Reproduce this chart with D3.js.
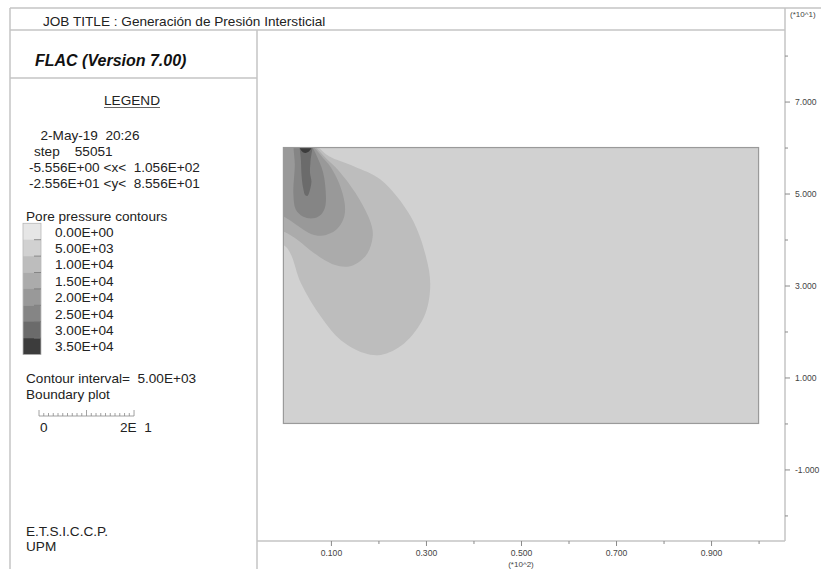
<!DOCTYPE html>
<html>
<head>
<meta charset="utf-8">
<script src="https://cdn.jsdelivr.net/npm/d3@7"></script>
<style>
  body { margin: 0; background: #fff; }
  svg text { font-family: "Liberation Sans", Arial, sans-serif; white-space: pre; }
</style>
</head>
<body>
<svg id="chart"></svg>
<script>
// plot window (model units, m)
let xDomain = [-5.556, 105.56]
let yDomain = [-25.56, 85.56]
let gridX = [0, 100]
let gridY = [0, 60]

let xTicks = [10, 30, 50, 70, 90]
let xMinor = [20, 40, 60, 80, 100]
let yTicks = [70, 50, 30, 10, -10]
let yMinor = [80, 60, 40, 20, 0, -20]

let levels = [0, 5000, 10000, 15000, 20000, 25000, 30000, 35000]
let infoLines = ["2-May-19  20:26", "step    55051", "-5.556E+00 <x<  1.056E+02", "-2.556E+01 <y<  8.556E+01"]
let footLines = ["E.T.S.I.C.C.P.", "UPM"]

// contour outlines (x, y in model units)
let contour5000 = [[5.2, 62], [7.4, 60], [9.6, 58.1], [14.9, 55.9], [20.5, 53.0], [26.8, 45.0], [30.0, 36.3], [30.9, 29.8], [29.6, 23.2], [25.4, 17.4], [20.5, 14.9], [17.0, 15.3], [12.1, 18.1], [7.9, 23.2], [3.7, 30.5], [0.9, 38.0], [-3, 41], [-3, 62]]
let contour10000 = [[5.0, 62], [6.9, 60], [9.0, 57.6], [11.6, 55.0], [15.6, 49.4], [18.4, 43.6], [18.8, 40.7], [17.7, 37.0], [15.6, 34.9], [13.5, 34.1], [10.7, 34.5], [6.5, 37.0], [3.0, 39.9], [0.5, 41.5], [-3, 43], [-3, 62]]
let contour15000 = [[5.0, 62], [6.5, 60], [8.3, 57.8], [9.8, 56.0], [11.7, 52.3], [12.9, 47.9], [12.8, 45.0], [11.7, 42.8], [10.0, 41.4], [7.9, 40.8], [5.8, 41.2], [3.7, 42.5], [1.6, 44.0], [0, 45], [-3, 46], [-3, 62]]
let contour20000 = [[2.5, 62], [2.4, 56], [2.1, 50], [2.6, 46.5], [4.1, 45.0], [6.2, 44.6], [7.9, 45.4], [8.8, 47.2], [8.9, 50.5], [8.3, 54.8], [7.0, 58.2], [6.2, 60], [5.6, 62]]
let contour25000 = [[3.7, 62], [3.7, 57], [3.9, 53], [4.2, 51.0], [4.6, 49.6], [5.1, 49.5], [5.6, 50.8], [5.9, 52.6], [5.6, 54.5], [5.7, 57.0], [6.0, 62]]
let contour30000 = [[3.2, 61], [3.7, 59.4], [4.6, 58.8], [5.5, 59.3], [6.2, 61]]

let contours = [contour5000, contour10000, contour15000, contour20000, contour25000, contour30000]
let greys = ["#e6e6e6", "#d1d1d1", "#bdbdbd", "#ababab", "#999999", "#858585", "#6b6b6b", "#3c3c3c"]

let width = 821
let height = 569
let frame = "#c4c4c4"
let font = "\"Liberation Sans\", Arial, sans-serif"

let svg = d3.select("#chart").attr("width", width).attr("height", height)

let xScale = d3.scaleLinear().domain(xDomain).range([257, 785])
let yScale = d3.scaleLinear().domain(yDomain).range([541, 30])

let fmtE = (v) => {
    let parts = v.toExponential(2).split("e")
    let n = +parts[1]
    return parts[0] + "E" + (n < 0 ? "-" : "+") + String(Math.abs(n)).padStart(2, "0")
}

let drawFrame = () => {
    let lines = [
        [10, 8, width, 8],
        [10, 30, 785, 30],
        [10, 8, 10, height],
        [257, 30, 257, height],
        [785, 8, 785, 541],
        [257, 541, 785, 541],
        [10, 78, 257, 78]
    ]
    svg.selectAll("line.frame")
        .data(lines)
        .enter()
        .append("line")
        .attr("class", "frame")
        .attr("x1", d => d[0]).attr("y1", d => d[1])
        .attr("x2", d => d[2]).attr("y2", d => d[3])
        .attr("stroke", frame)
        .attr("stroke-width", 1.5)
}

let drawContours = () => {
    svg.append("clipPath")
        .attr("id", "gridclip")
        .append("rect")
        .attr("x", xScale(gridX[0]))
        .attr("y", yScale(gridY[1]))
        .attr("width", xScale(gridX[1]) - xScale(gridX[0]))
        .attr("height", yScale(gridY[0]) - yScale(gridY[1]))

    svg.append("rect")
        .attr("x", xScale(gridX[0]))
        .attr("y", yScale(gridY[1]))
        .attr("width", xScale(gridX[1]) - xScale(gridX[0]))
        .attr("height", yScale(gridY[0]) - yScale(gridY[1]))
        .attr("fill", greys[1])

    let line = d3.line()
        .x(d => xScale(d[0]))
        .y(d => yScale(d[1]))
        .curve(d3.curveCatmullRomClosed.alpha(0.5))

    svg.append("g")
        .attr("clip-path", "url(#gridclip)")
        .selectAll("path")
        .data(contours)
        .enter()
        .append("path")
        .attr("d", line)
        .attr("fill", (d, i) => greys[i + 2])

    svg.append("rect")
        .attr("x", xScale(gridX[0]))
        .attr("y", yScale(gridY[1]))
        .attr("width", xScale(gridX[1]) - xScale(gridX[0]))
        .attr("height", yScale(gridY[0]) - yScale(gridY[1]))
        .attr("fill", "none")
        .attr("stroke", "#9a9a9a")
        .attr("stroke-width", 1.2)
}

let drawAxes = () => {
    let styleAxis = (g) => {
        g.select(".domain").remove()
        g.selectAll("line").attr("stroke", "#8a8a8a")
        g.selectAll("text").attr("fill", "#444").style("font-family", font).style("font-size", "8.6px")
    }

    svg.append("g")
        .attr("transform", "translate(785,0)")
        .call(d3.axisRight(yScale).tickValues(yMinor).tickSize(3).tickFormat(""))
        .call(styleAxis)
    svg.append("g")
        .attr("transform", "translate(785,0)")
        .call(d3.axisRight(yScale).tickValues(yTicks).tickSize(5).tickPadding(5)
            .tickFormat(d => (d / 10).toFixed(3)))
        .call(styleAxis)

    svg.append("g")
        .attr("transform", "translate(0,541)")
        .call(d3.axisBottom(xScale).tickValues(xMinor).tickSize(3).tickFormat(""))
        .call(styleAxis)
    svg.append("g")
        .attr("transform", "translate(0,541)")
        .call(d3.axisBottom(xScale).tickValues(xTicks).tickSize(5).tickPadding(4)
            .tickFormat(d => (d / 100).toFixed(3)))
        .call(styleAxis)

    svg.append("text").text("(*10^1)")
        .attr("x", 790).attr("y", 17)
        .attr("fill", "#444").style("font-size", "8px")
    svg.append("text").text("(*10^2)")
        .attr("x", xScale(50)).attr("y", 567)
        .attr("text-anchor", "middle")
        .attr("fill", "#444").style("font-size", "8px")
}

let drawLegend = () => {
    svg.append("text").text("JOB TITLE : Generación de Presión Intersticial")
        .attr("x", 43).attr("y", 26)
        .attr("fill", "#222").style("font-size", "13.6px")

    svg.append("text").text("FLAC (Version 7.00)")
        .attr("x", 35).attr("y", 66)
        .attr("fill", "#111").style("font-size", "16px")
        .style("font-weight", "bold").style("font-style", "italic")

    svg.append("text").text("LEGEND")
        .attr("x", 132).attr("y", 105)
        .attr("text-anchor", "middle")
        .attr("fill", "#222").style("font-size", "13.6px")
    svg.append("line")
        .attr("x1", 104).attr("x2", 160).attr("y1", 107.5).attr("y2", 107.5)
        .attr("stroke", "#666").attr("stroke-width", 1)

    svg.selectAll("text.info")
        .data(infoLines)
        .enter()
        .append("text")
        .attr("class", "info")
        .text(d => d)
        .attr("x", (d, i) => [40.5, 34, 29, 29][i])
        .attr("y", (d, i) => 140 + i * 16)
        .attr("fill", "#222").style("font-size", "13.6px")

    svg.append("text").text("Pore pressure contours")
        .attr("x", 26).attr("y", 221)
        .attr("fill", "#222").style("font-size", "13.6px")

    let boxTop = 223.3
    let boxH = 16.4
    svg.selectAll("rect.key")
        .data(levels)
        .enter()
        .append("rect")
        .attr("class", "key")
        .attr("x", 23).attr("width", 18)
        .attr("y", (d, i) => boxTop + i * boxH)
        .attr("height", boxH + 0.3)
        .attr("fill", (d, i) => greys[i])
    svg.append("rect")
        .attr("x", 23).attr("width", 18)
        .attr("y", boxTop).attr("height", boxH * levels.length)
        .attr("fill", "none").attr("stroke", "#b8b8b8").attr("stroke-width", 0.8)
    svg.selectAll("line.key")
        .data(levels.slice(1))
        .enter()
        .append("line")
        .attr("class", "key")
        .attr("x1", 34).attr("x2", 41)
        .attr("y1", (d, i) => boxTop + (i + 1) * boxH)
        .attr("y2", (d, i) => boxTop + (i + 1) * boxH)
        .attr("stroke", "#777").attr("stroke-width", 0.8)
    svg.selectAll("text.key")
        .data(levels)
        .enter()
        .append("text")
        .attr("class", "key")
        .text(d => fmtE(d))
        .attr("x", 55)
        .attr("y", (d, i) => boxTop + i * boxH + boxH / 2 + 5)
        .attr("fill", "#222").style("font-size", "13.6px")

    svg.append("text").text("Contour interval=  " + fmtE(levels[1] - levels[0]))
        .attr("x", 26).attr("y", 383)
        .attr("fill", "#222").style("font-size", "13.6px")
    svg.append("text").text("Boundary plot")
        .attr("x", 26).attr("y", 399)
        .attr("fill", "#222").style("font-size", "13.6px")

    // scale bar: 20 model units
    let x0 = 39
    let len = xScale(20) - xScale(0)
    let g = svg.append("g").attr("stroke", "#8a8a8a").attr("stroke-width", 0.8)
    g.append("line").attr("x1", x0).attr("x2", x0 + len).attr("y1", 416).attr("y2", 416)
    d3.range(0, 21).forEach(k => {
        let tall = (k % 10 === 0)
        g.append("line")
            .attr("x1", x0 + k * len / 20).attr("x2", x0 + k * len / 20)
            .attr("y1", 416).attr("y2", tall ? 410 : 413)
    })
    svg.append("text").text("0")
        .attr("x", 40).attr("y", 432)
        .attr("fill", "#222").style("font-size", "13.6px")
    svg.append("text").text("2E  1")
        .attr("x", 120).attr("y", 432)
        .attr("fill", "#222").style("font-size", "13.6px")

    svg.selectAll("text.foot")
        .data(footLines)
        .enter()
        .append("text")
        .attr("class", "foot")
        .text(d => d)
        .attr("x", 26)
        .attr("y", (d, i) => 536 + i * 15)
        .attr("fill", "#222").style("font-size", "13.6px")
}

drawFrame()
drawContours()
drawAxes()
drawLegend()
</script>
</body>
</html>
